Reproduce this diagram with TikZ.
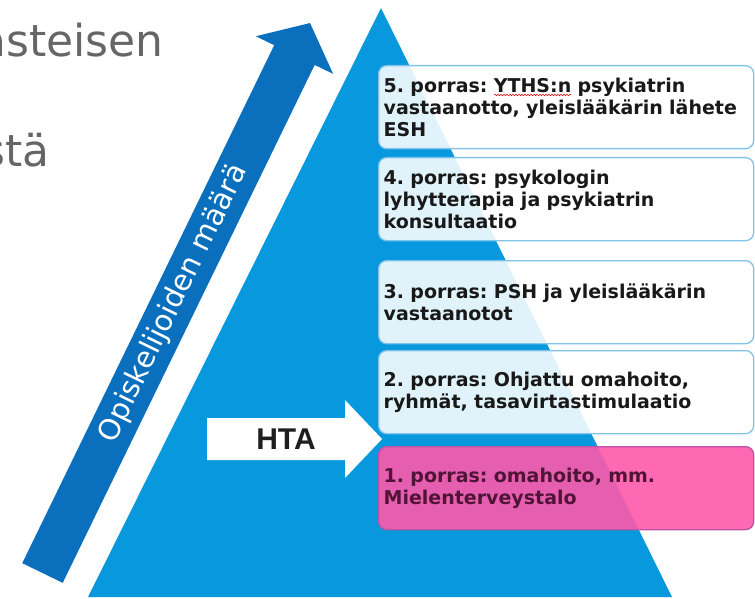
\documentclass[tikz,border=0pt]{standalone}
\usepackage{fontspec}
\setmainfont{DejaVu Sans}
\newfontfamily\htafont{Liberation Sans}
\usetikzlibrary{decorations.pathmorphing}
\definecolor{triblue}{RGB}{8,152,221}
\definecolor{arrblue}{RGB}{10,112,190}
\definecolor{boxedge}{RGB}{130,195,235}
\definecolor{pinkfill}{RGB}{255,88,170}
\definecolor{pinkedge}{RGB}{185,85,165}
\definecolor{pinktext}{RGB}{80,20,55}
\definecolor{graytext}{RGB}{102,102,102}
\definecolor{boxtext}{RGB}{25,25,25}
\begin{document}
\frenchspacing
\begin{tikzpicture}[x=1pt,y=-1pt,
  stepbox/.style={draw=boxedge, line width=1.3pt, rounded corners=8pt,
    fill=white, fill opacity=0.88, text opacity=1,
    minimum width=375pt, minimum height=83pt, inner xsep=5pt, inner ysep=0pt,
    text width=365pt, align=left, anchor=north west,
    font=\frenchspacing\fontsize{19}{22}\selectfont\bfseries, text=boxtext},
  pinkbox/.style={stepbox, fill=pinkfill, fill opacity=0.9, draw=pinkedge, text=pinktext},
  bigtext/.style={font=\fontsize{44}{50}\selectfont, text=graytext, inner sep=0pt, anchor=base east},
  arrowtext/.style={font=\fontsize{29}{32}\selectfont, text=white, inner sep=0pt},
  htatext/.style={font=\htafont\bfseries\fontsize{30}{32}\selectfont, text={rgb,255:red,30;green,30;blue,30}, inner sep=0pt}
]
\clip (0,0) rectangle (755,599);
\useasboundingbox (0,0) rectangle (755,599);
\fill[white] (0,0) rectangle (755,599);

% top-left partial text
\node[bigtext] (t1) at (164,57) {porrasteisen};
\node[bigtext] (t2) at (50,167) {stä};

% pyramid
\fill[triblue] (88,597) -- (381,8) -- (672,597) -- cycle;

% dark blue arrow
\begin{scope}[shift={(42.5,573)}, rotate=64.06]
  \fill[arrblue] (0,-22.5) -- (576,-22.5) -- (576,-43) -- (611.6,0) -- (576,43) -- (576,22.5) -- (0,22.5) -- cycle;
  \node[arrowtext, rotate=64.06] (count) at (300,0) {Opiskelijoiden määrä};
\end{scope}

% HTA arrow
\fill[white] (207,418) -- (345,418) -- (345,400) -- (382,439) -- (345,478) -- (345,460) -- (207,460) -- cycle;
\node[htatext] (hta) at (286,439) {HTA};

% steps
\node[stepbox] (b5) at (378,65) {5. porras: YTHS:n psykiatrin\\vastaanotto, yleislääkärin lähete\\ESH};
\node[stepbox] (b4) at (378,157) {4. porras: psykologin\\lyhytterapia ja psykiatrin\\konsultaatio};
\node[stepbox] (b3) at (378,260) {3. porras: PSH ja yleislääkärin\\vastaanotot};
\node[stepbox] (b2) at (378,350) {2. porras: Ohjattu omahoito,\\ryhmät, tasavirtastimulaatio};
\node[pinkbox] (b1) at (378,446) {1. porras: omahoito, mm.\\Mielenterveystalo};

% spell-check squiggle
\draw[red!85!black, line width=0.6pt, decorate, decoration={snake, amplitude=0.7pt, segment length=3pt}] (494,95) -- (571,95);
\end{tikzpicture}
\end{document}
